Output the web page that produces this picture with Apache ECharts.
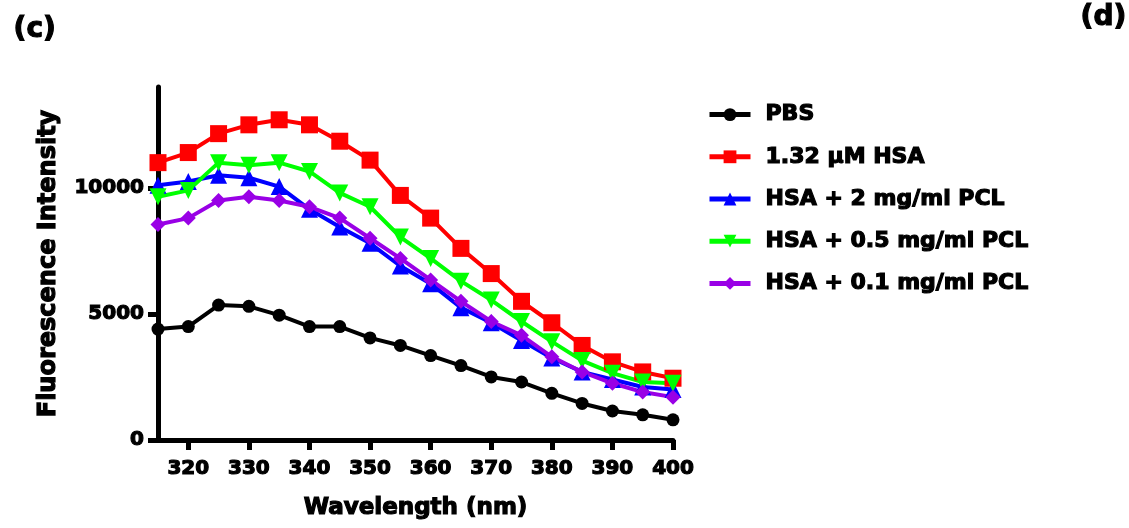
<!DOCTYPE html>
<html>
<head>
<meta charset="utf-8">
<script src="https://cdn.jsdelivr.net/npm/echarts@6/dist/echarts.min.js"></script>
<style>
html,body{margin:0;padding:0;background:#fff;}
#chart{width:1129px;height:528px;}
</style>
</head>
<body>
<div id="chart"></div>
<script>
// ---- data ----
var wavelengths = [315,320,325,330,335,340,345,350,355,360,365,370,375,380,385,390,395,400];
var pbs      = [4400,4500,5350,5300,4950,4500,4500,4050,3750,3350,2950,2500,2300,1850,1450,1150,1000,800];
var hsa      = [11000,11400,12150,12500,12700,12500,11850,11100,9700,8800,7600,6600,5500,4650,3750,3100,2700,2450];
var hsaPcl2  = [10100,10250,10500,10400,10050,9150,8450,7800,6900,6200,5250,4650,3950,3250,2700,2400,2100,2000];
var hsaPcl05 = [9650,9900,11000,10900,11000,10650,9800,9250,8050,7200,6300,5550,4700,3900,3150,2650,2300,2250];
var hsaPcl01 = [8550,8800,9500,9650,9500,9250,8800,8000,7200,6350,5500,4700,4150,3300,2700,2250,1900,1700];
var seriesNames = ['PBS','1.32 µM HSA','HSA + 2 mg/ml PCL','HSA + 0.5 mg/ml PCL','HSA + 0.1 mg/ml PCL'];
var xTicks = [320,330,340,350,360,370,380,390,400];
var yTicks = [0,5000,10000];

function pairs(vals){ return wavelengths.map(function(w,i){ return [w, vals[i]]; }); }

var FONT = 'DejaVu Sans';
var chart = echarts.init(document.getElementById('chart'), null, {renderer:'canvas'});

function mk(name, vals, color, symbol, size){
  return {
    name: name, type: 'line', data: pairs(vals),
    symbol: symbol, symbolSize: size,
    lineStyle: {color: color, width: 4},
    itemStyle: {color: color},
    emphasis: {disabled: true},
    animation: false
  };
}
var fat = {textBorderColor: '#000', textBorderWidth: 1.2};

chart.setOption({
  animation: false,
  backgroundColor: '#fff',
  grid: {left: 158, top: 87, width: 515, height: 353},
  graphic: [
    {type:'text', left: 13, top: 15, style:{text:'(c)', font:'bold 28px "DejaVu Sans"', fill:'#000', stroke:'#000', lineWidth:1.2}},
    {type:'text', left: 1080, top: 3, style:{text:'(d)', font:'bold 28px "DejaVu Sans"', fill:'#000', stroke:'#000', lineWidth:1.2}}
  ],
  legend: {
    orient: 'vertical', left: 702, top: 98,
    itemWidth: 41, itemHeight: 16, itemGap: 19,
    data: seriesNames,
    lineStyle: {width: 5},
    textStyle: Object.assign({fontFamily: FONT, fontWeight: 'bold', fontSize: 22, color: '#000', padding: [0,0,0,10]}, fat)
  },
  xAxis: {
    type: 'value', min: 315, max: 400,
    name: 'Wavelength (nm)', nameLocation: 'middle', nameGap: 57,
    nameTextStyle: Object.assign({fontFamily: FONT, fontWeight: 'bold', fontSize: 23, color: '#000'}, fat),
    axisLine: {show: true, lineStyle: {color: '#000', width: 5}},
    axisTick: {show: true, length: 10, lineStyle: {color: '#000', width: 5}, customValues: xTicks},
    axisLabel: Object.assign({fontFamily: FONT, fontWeight: 'bold', fontSize: 20, color: '#000', margin: 19, customValues: xTicks}, fat),
    splitLine: {show: false}
  },
  yAxis: {
    type: 'value', min: 0, max: 14000,
    name: 'Fluorescence Intensity', nameLocation: 'middle', nameGap: 97,
    nameTextStyle: Object.assign({fontFamily: FONT, fontWeight: 'bold', fontSize: 24, color: '#000'}, fat),
    axisLine: {show: true, lineStyle: {color: '#000', width: 5}},
    axisTick: {show: true, length: 10, lineStyle: {color: '#000', width: 5}, customValues: yTicks},
    axisLabel: Object.assign({fontFamily: FONT, fontWeight: 'bold', fontSize: 20, color: '#000', margin: 14, customValues: yTicks,
      formatter: function(v){ return String(v); }}, fat),
    splitLine: {show: false}
  },
  series: [
    mk(seriesNames[0], pbs, '#000000', 'circle', 13),
    mk(seriesNames[1], hsa, '#ff0000', 'rect', 17),
    mk(seriesNames[2], hsaPcl2, '#0000ff', 'triangle', 17),
    mk(seriesNames[3], hsaPcl05, '#00ff00', 'path://M0,0 L10,0 L5,10 Z', 17),
    mk(seriesNames[4], hsaPcl01, '#9900e6', 'diamond', 15)
  ]
});
</script>
</body>
</html>
